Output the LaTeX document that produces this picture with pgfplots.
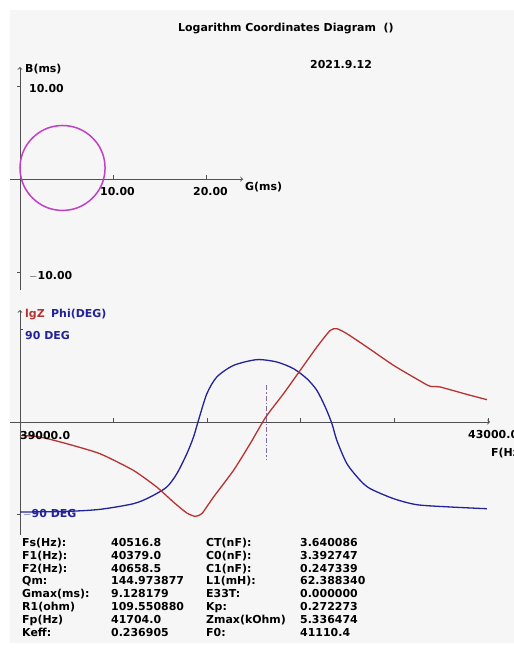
\documentclass[border=0pt]{standalone}
\usepackage{pgfplots}
\pgfplotsset{compat=1.18}
\usepackage{fontspec}
\setmainfont{DejaVu Sans}
\definecolor{bg}{HTML}{F6F6F6}
\definecolor{axc}{HTML}{505050}
\definecolor{zred}{HTML}{B83232}
\definecolor{pblue}{HTML}{22229A}
\definecolor{circ}{HTML}{C23FC8}
\definecolor{vmark}{HTML}{7E6E9E}
\newcommand{\T}{\fontsize{11}{13}\selectfont\bfseries}
\begin{document}
\begin{tikzpicture}[x=1bp,y=1bp]
\useasboundingbox (0,0) rectangle (514,660);
\clip (0,0) rectangle (514,660);
\fill[white] (0,0) rectangle (514,660);
\fill[bg] (10,17) rectangle (514,650);
% ---------------- top: admittance circle ----------------
\begin{axis}[at={(10bp,370bp)}, anchor=south west, scale only axis,
  width=233bp, height=223bp, xmin=-1.07, xmax=23.9, ymin=-11.9, ymax=12.04,
  axis lines=none, clip=false]
\draw[axc, line width=0.9bp, ->] (axis cs:-1.07,0) -- (axis cs:23.9,0);
\draw[axc, line width=0.9bp, ->] (axis cs:0,-11.9) -- (axis cs:0,12.04);
\draw[axc, line width=0.8bp] (axis cs:10,0) -- (axis cs:10,0.45);
\draw[axc, line width=0.8bp] (axis cs:20,0) -- (axis cs:20,0.45);
\draw[axc, line width=0.8bp] (axis cs:0,10) -- (axis cs:-0.33,10);
\draw[axc, line width=0.8bp] (axis cs:0,-10) -- (axis cs:-0.33,-10);
\addplot[circ, line width=1.5bp, smooth] coordinates {
(9.12,1.20) (9.05,1.99) (8.85,2.76) (8.51,3.48) (8.05,4.13) (7.49,4.69)
(6.84,5.15) (6.12,5.49) (5.35,5.69) (4.56,5.76) (3.77,5.69) (3.00,5.49)
(2.28,5.15) (1.63,4.69) (1.07,4.13) (0.61,3.48) (0.27,2.76) (0.07,1.99)
(0.00,1.20) (0.07,0.41) (0.27,-0.36) (0.61,-1.08) (1.07,-1.73) (1.63,-2.29)
(2.28,-2.75) (3.00,-3.09) (3.77,-3.29) (4.56,-3.36) (5.35,-3.29) (6.12,-3.09)
(6.84,-2.75) (7.49,-2.29) (8.05,-1.73) (8.51,-1.08) (8.85,-0.36) (9.05,0.41)
(9.12,1.20)};
\end{axis}
% ---------------- bottom: lgZ and phase ----------------
\begin{axis}[at={(10bp,125bp)}, anchor=south west, scale only axis,
  width=480bp, height=225bp, xmin=38914.5, xmax=43017, ymin=-110.1, ymax=109.2,
  axis lines=none, clip=false]
\draw[axc, line width=0.9bp, ->] (axis cs:38914.5,0) -- (axis cs:43017,0);
\draw[axc, line width=0.9bp, ->] (axis cs:39000,-110.1) -- (axis cs:39000,109.2);
\draw[axc, line width=0.8bp] (axis cs:39800,0) -- (axis cs:39800,4);
\draw[axc, line width=0.8bp] (axis cs:40600,0) -- (axis cs:40600,4);
\draw[axc, line width=0.8bp] (axis cs:41400,0) -- (axis cs:41400,4);
\draw[axc, line width=0.8bp] (axis cs:42200,0) -- (axis cs:42200,4);
\draw[axc, line width=0.8bp] (axis cs:43000,0) -- (axis cs:43000,4);
\draw[axc, line width=0.8bp] (axis cs:39000,90) -- (axis cs:39026,90);
\draw[axc, line width=0.8bp] (axis cs:39000,-90) -- (axis cs:38974,-90);
\addplot[pblue, line width=1.3bp, smooth, tension=0.45] coordinates {
(39000,-87.7) (39399,-87.1) (39684,-85.1) (39969,-79.6) (40112,-73.1)
(40254,-63.4) (40340,-50.4) (40426,-30.9) (40483,-14.6) (40525,1.6)
(40597,27.6) (40682,43.9) (40825,55.2) (41024,60.8) (41195,58.5)
(41338,52.0) (41452,42.2) (41537,30.9) (41609,14.6) (41666,-1.6)
(41708,-17.9) (41794,-40.6) (41908,-56.9) (41994,-65.0) (42193,-74.7)
(42393,-80.6) (42678,-82.8) (42991,-84.5)};
\addplot[zred, line width=1.3bp, smooth, tension=0.35] coordinates {
(39000,-13.0) (39171,-14.6) (39399,-21.1) (39684,-30.9) (39969,-47.1)
(40169,-63.4) (40311,-78.0) (40426,-88.7) (40497,-91.9) (40554,-89.3)
(40654,-73.1) (40825,-47.1) (40967,-21.1) (41101,4.9) (41252,27.6)
(41395,50.4) (41537,73.1) (41651,89.3) (41708,91.0) (41794,86.1)
(41965,73.1) (42193,55.2) (42450,38.0) (42507,34.8) (42592,34.1)
(42820,26.9) (42991,21.8)};
\addplot[vmark, line width=1bp, dash pattern=on 5bp off 2bp on 1.5bp off 2bp] coordinates {(41110.4,36) (41110.4,-37)};
\end{axis}
% ---------------- texts ----------------
\begin{scope}[every node/.style={inner sep=0pt, font=\T, anchor=base west}]
\node at (178,{660-31.7}) {Logarithm Coordinates Diagram\ \ ()};
\node at (310,{660-68.3}) {2021.9.12};
\node at (25,{660-73}) {B(ms)};
\node at (29,{660-92.3}) {10.00};
\node at (29,{660-279.3}) {$-$10.00};
\node at (100,{660-195.7}) {10.00};
\node at (193,{660-195.7}) {20.00};
\node at (245,{660-190.7}) {G(ms)};
\node[text=zred] at (25,{660-317.7}) {lgZ};
\node[text=pblue] at (51,{660-317.7}) {Phi(DEG)};
\node[text=pblue] at (25,{660-340}) {90 DEG};
\node[text=pblue] at (23,{660-518}) {$-$90 DEG};
\node at (20,{660-440}) {39000.0};
\node at (468,{660-439}) {43000.0};
\node at (491,{660-457}) {F(Hz)};
\foreach \a/\b/\c/\d [count=\i from 0] in {
 Fs(Hz):/40516.8/CT(nF):/3.640086,
 F1(Hz):/40379.0/C0(nF):/3.392747,
 F2(Hz):/40658.5/C1(nF):/0.247339,
 Qm:/144.973877/L1(mH):/62.388340,
 Gmax(ms):/9.128179/E33T:/0.000000,
 R1(ohm)/109.550880/Kp:/0.272273,
 Fp(Hz)/41704.0/Zmax(kOhm)/5.336474,
 Keff:/0.236905/F0:/41110.4}{
 \node at (22,{660-546.7-12.76*\i}) {\a};
 \node at (111,{660-546.7-12.76*\i}) {\b};
 \node at (206,{660-546.7-12.76*\i}) {\c};
 \node at (300,{660-546.7-12.76*\i}) {\d};
}
\end{scope}
\end{tikzpicture}
\end{document}
